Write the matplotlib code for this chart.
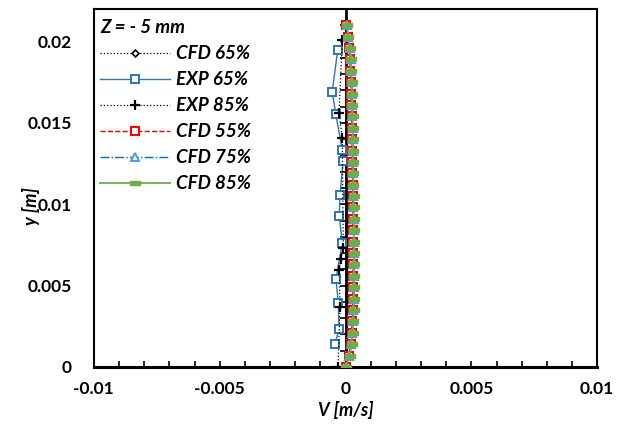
import matplotlib.pyplot as plt
from matplotlib.ticker import MultipleLocator, FuncFormatter, NullFormatter

plt.rcParams['font.family'] = ['Lato', 'DejaVu Sans']

# CFD profiles (all share the same y stations)
y_cfd = [0.0, 0.0007, 0.0014, 0.0021, 0.0028, 0.0035, 0.0042, 0.0049, 0.0056, 0.0063,
         0.0070, 0.0077, 0.0084, 0.0091, 0.0098, 0.0105, 0.0112, 0.0119, 0.0126, 0.0133,
         0.0140, 0.0147, 0.0154, 0.0161, 0.0168, 0.0175, 0.0182, 0.0189, 0.0196, 0.0203,
         0.0210]
v_cfd65 = [0.0, 0.00014, 0.00022, 0.00026, 0.00028, 0.0003, 0.0003, 0.00031, 0.00031, 0.00032,
           0.00032, 0.00031, 0.00031, 0.0003, 0.0003, 0.0003, 0.00029, 0.00029, 0.00028, 0.00028,
           0.00027, 0.00027, 0.00026, 0.00025, 0.00024, 0.00023, 0.00021, 0.00019, 0.00015, 0.0001,
           0.00003]
v_cfd55 = [0.0, 0.00012, 0.0002, 0.00024, 0.00027, 0.00028, 0.00029, 0.0003, 0.0003, 0.0003,
           0.0003, 0.0003, 0.00029, 0.00029, 0.00028, 0.00028, 0.00028, 0.00027, 0.00027, 0.00026,
           0.00026, 0.00025, 0.00024, 0.00023, 0.00022, 0.00021, 0.00019, 0.00017, 0.00014, 0.00009,
           0.00003]
v_cfd75 = [0.0, 0.00015, 0.00023, 0.00027, 0.0003, 0.00031, 0.00032, 0.00032, 0.00033, 0.00033,
           0.00033, 0.00033, 0.00032, 0.00032, 0.00031, 0.00031, 0.0003, 0.0003, 0.00029, 0.00029,
           0.00028, 0.00028, 0.00027, 0.00026, 0.00025, 0.00024, 0.00022, 0.0002, 0.00016, 0.00011,
           0.00004]
v_cfd85 = [0.0, 0.00016, 0.00024, 0.00028, 0.00031, 0.00032, 0.00033, 0.00034, 0.00034, 0.00034,
           0.00034, 0.00034, 0.00033, 0.00033, 0.00032, 0.00032, 0.00031, 0.00031, 0.0003, 0.0003,
           0.00029, 0.00028, 0.00028, 0.00027, 0.00026, 0.00025, 0.00023, 0.00021, 0.00017, 0.00011,
           0.00004]

# experiments
y_exp65 = [0.00142, 0.00232, 0.00396, 0.00542, 0.00761, 0.00929, 0.01054, 0.01263, 0.01331,
           0.01557, 0.0169, 0.0195]
v_exp65 = [-0.00042, -0.00026, -0.00029, -0.00038, -0.00013, -0.00025, -0.00022, -0.0001, -0.00013,
           -0.00039, -0.00053, -0.00031]
y_exp85 = [0.0, 0.00367, 0.00593, 0.00665, 0.0073, 0.01407, 0.01561, 0.0201]
v_exp85 = [-0.0003, -0.00022, -0.00025, -0.00019, -0.00009, -0.00013, -0.00026, -0.00013]

fig = plt.figure(figsize=(6.3, 4.25), dpi=100)
ax = fig.add_axes([0.149, 0.1365, 0.799, 0.8425])

# vertical axis line crossing at V = 0
ax.axvline(0, color='black', lw=2, zorder=2)

ax.plot(v_cfd65, y_cfd, ls=':', color='black', lw=0.9, marker='D', ms=3.5,
        mfc='white', mec='black', mew=1.2, label='CFD 65%', zorder=3)
ax.plot(v_exp65, y_exp65, ls='-', color='#2E75B6', lw=1, marker='s', ms=5.5,
        mfc='white', mec='#2E75B6', mew=1.4, label='EXP 65%', zorder=3)
ax.plot(v_exp85, y_exp85, ls=':', color='black', lw=0.9, marker='+', ms=7,
        mew=1.6, label='EXP 85%', zorder=3)
ax.plot(v_cfd55, y_cfd, ls='--', color='#FF0000', lw=1, marker='s', ms=5.5,
        mfc='white', mec='#FF0000', mew=1.5, label='CFD 55%', zorder=4)
ax.plot(v_cfd75, y_cfd, ls='-.', color='#0070C0', lw=1, marker='^', ms=5.5,
        mfc='white', mec='#5B9BD5', mew=1.5, label='CFD 75%', zorder=5)
dash = [(-1, -0.4), (1, -0.4), (1, 0.4), (-1, 0.4), (-1, -0.4)]
ax.plot(v_cfd85, y_cfd, ls='-', color='#70AD47', lw=1.3, marker=dash, ms=6.5,
        mfc='#70AD47', mec='#70AD47', label='CFD 85%', zorder=6)

ax.set_xlim(-0.01, 0.01)
ax.set_ylim(0, 0.022)

# tick marks on the centre axis
sec = ax.secondary_yaxis(0.5)
sec.spines['left'].set_visible(False)
sec.yaxis.set_major_locator(MultipleLocator(0.005))
sec.yaxis.set_minor_locator(MultipleLocator(0.001))
sec.yaxis.set_major_formatter(NullFormatter())
sec.tick_params(which='both', direction='in', length=4, width=1.2,
                labelleft=False, labelright=False)

ax.xaxis.set_major_locator(MultipleLocator(0.005))
ax.xaxis.set_minor_locator(MultipleLocator(0.001))
ax.yaxis.set_major_locator(MultipleLocator(0.005))
ax.xaxis.set_major_formatter(FuncFormatter(lambda v, p: '0' if abs(v) < 1e-12 else f'{v:g}'))
ax.yaxis.set_major_formatter(FuncFormatter(lambda v, p: '0' if abs(v) < 1e-12 else f'{v:g}'))
ax.tick_params(axis='x', which='both', direction='in', length=4, width=1.2, pad=10,
               labelsize=12.5)
ax.tick_params(axis='y', which='both', length=0, pad=16, labelsize=12.5)
for lab in ax.get_xticklabels() + ax.get_yticklabels():
    lab.set_fontweight('bold')

for s in ['left', 'top', 'right']:
    ax.spines[s].set_linewidth(1.5)
ax.spines['bottom'].set_linewidth(2.2)

ax.set_xlabel('V [m/s]', fontsize=13, fontweight='bold', fontstyle='italic')
ax.set_ylabel('y [m]', fontsize=13, fontweight='bold', fontstyle='italic')
ax.xaxis.set_label_coords(0.5, -0.095)
ax.yaxis.set_label_coords(-0.108, 0.45)

leg = ax.legend(loc='upper left', bbox_to_anchor=(0.0, 0.99), frameon=False,
                title='Z = - 5 mm', alignment='left', handlelength=3.7, handletextpad=0.35,
                prop={'size': 13.5, 'weight': 'bold', 'style': 'italic'},
                labelspacing=0.48, borderaxespad=0.0, borderpad=0.35)
leg.get_title().set_fontsize(13.5)
leg.get_title().set_fontweight('bold')
leg.get_title().set_fontstyle('italic')

fig.savefig('out.png', dpi=100)
